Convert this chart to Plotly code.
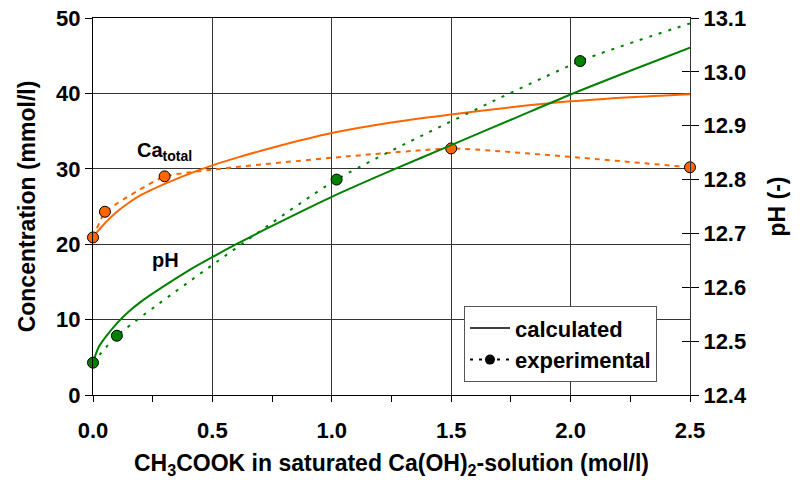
import plotly.graph_objects as go

# Calculated curves (model)
x_calc = [0, 0.025, 0.05, 0.1, 0.15, 0.2, 0.3, 0.4, 0.5, 0.6, 0.75, 1.0, 1.25, 1.5, 1.75, 2.0, 2.25, 2.5]
ca_calc = [21.0, 21.9, 22.8, 24.3, 25.5, 26.5, 28.0, 29.3, 30.45, 31.45, 32.8, 34.75, 36.15, 37.2,
           38.15, 38.95, 39.5, 39.9]
ph_calc = [12.461, 12.490, 12.506, 12.533, 12.555, 12.573, 12.603, 12.631, 12.656, 12.680, 12.714,
           12.768, 12.817, 12.864, 12.911, 12.958, 13.002, 13.045]

# Experimental measurements
ca_exp_x = [0, 0.05, 0.3, 1.5, 2.5]
ca_exp = [20.9, 24.3, 29.0, 32.7, 30.2]
ph_exp_x = [0, 0.1, 1.02, 2.04, 2.5]
ph_exp = [12.46, 12.51, 12.80, 13.02, 13.09]
ph_exp_marker = [True, True, True, True, False]

x_ticks = [0, 0.5, 1.0, 1.5, 2.0, 2.5]
ph_ticks = [12.4, 12.5, 12.6, 12.7, 12.8, 12.9, 13.0, 13.1]

ORANGE = "#FF6600"
GREEN = "#008000"
FONT = "Liberation Sans"

fig = go.Figure()

fig.add_trace(go.Scatter(
    x=x_calc, y=ca_calc, mode="lines",
    line=dict(color=ORANGE, width=2, shape="spline", smoothing=0.8),
    showlegend=False, cliponaxis=False))
fig.add_trace(go.Scatter(
    x=x_calc, y=ph_calc, yaxis="y2", mode="lines",
    line=dict(color=GREEN, width=2, shape="spline", smoothing=0.8),
    showlegend=False, cliponaxis=False))
fig.add_trace(go.Scatter(
    x=ca_exp_x, y=ca_exp, mode="lines+markers",
    line=dict(color=ORANGE, width=2, dash="5px,5px", shape="spline", smoothing=0.3),
    marker=dict(size=11, color=ORANGE, opacity=1, line=dict(color="black", width=1)),
    showlegend=False, cliponaxis=False))
fig.add_trace(go.Scatter(
    x=ph_exp_x, y=ph_exp, yaxis="y2", mode="lines+markers",
    line=dict(color=GREEN, width=2, dash="3px,7px", shape="spline", smoothing=0.5),
    marker=dict(size=[11 if m else 0 for m in ph_exp_marker], color=GREEN, opacity=1,
                line=dict(color="black", width=[1 if m else 0 for m in ph_exp_marker])),
    showlegend=False, cliponaxis=False))

# Legend keys
fig.add_trace(go.Scatter(x=[None], y=[None], mode="lines", name="calculated",
                         line=dict(color="black", width=1.5)))
fig.add_trace(go.Scatter(x=[None], y=[None], mode="lines+markers", name="experimental",
                         line=dict(color="black", width=2, dash="3px,6px"),
                         marker=dict(size=10, color="black", opacity=1)))

# narrow strip along the right axis: its grid lines form the inner half of the pH ticks
fig.add_trace(go.Scatter(x=[0.5], y=[12.7], xaxis="x2", yaxis="y3", mode="markers",
                         marker=dict(size=1, opacity=0), showlegend=False, hoverinfo="skip"))

fig.add_annotation(x=0.176, y=32.3, text="Ca<sub>total</sub>", showarrow=False,
                   xanchor="left", yanchor="middle",
                   font=dict(family=FONT, size=20, color="black", weight="bold"))
fig.add_annotation(x=0.239, y=17.9, text="pH", showarrow=False,
                   xanchor="left", yanchor="middle",
                   font=dict(family=FONT, size=20, color="black", weight="bold"))

grid = "#333333"
strip = 8 / 597
fig.update_layout(
    width=800, height=486,
    margin=dict(l=93, r=110, t=18, b=91, autoexpand=False),
    paper_bgcolor="white", plot_bgcolor="rgba(0,0,0,0)",
    font=dict(family=FONT, size=22, color="black", weight="bold"),
    xaxis=dict(
        range=[0, 2.5], tickvals=x_ticks, tickformat=".1f",
        ticks="outside", ticklen=6, tickcolor="black", ticklabelstandoff=10,
        minor=dict(dtick=0.25, ticks="outside", ticklen=6, tickcolor="black", showgrid=False),
        showgrid=True, gridcolor=grid, gridwidth=1,
        showline=True, linecolor="black", linewidth=1, mirror=True, zeroline=False,
        title=dict(text="CH<sub>3</sub>COOK in saturated Ca(OH)<sub>2</sub>-solution (mol/l)",
                   standoff=12, font=dict(size=23)),
    ),
    yaxis=dict(
        range=[0, 50], dtick=10, ticks="outside", ticklen=7, tickcolor="black",
        showgrid=True, gridcolor=grid, gridwidth=1,
        showline=True, linecolor="black", linewidth=1, zeroline=False,
        title=dict(text="Concentration (mmol/l)", standoff=14, font=dict(size=23)),
    ),
    yaxis2=dict(
        range=[12.4, 13.1], tickvals=ph_ticks, tickformat=".1f", overlaying="y", side="right",
        anchor="x", ticks="outside", ticklen=8, tickcolor="black",
        showgrid=False, showline=True, linecolor="#333333", linewidth=1, zeroline=False,
        title=dict(text="pH (-)", standoff=22, font=dict(size=23)),
    ),
    xaxis2=dict(domain=[1 - strip, 1], range=[0, 1], anchor="y3",
                showgrid=False, showline=False, zeroline=False, showticklabels=False, ticks=""),
    yaxis3=dict(
        domain=[0, 1], range=[12.4, 13.1], tickvals=ph_ticks, anchor="x2",
        showgrid=True, gridcolor="black", gridwidth=1, showticklabels=False,
        ticks="", showline=False, zeroline=False,
    ),
    legend=dict(
        x=0.6214, y=0.2355, xanchor="left", yanchor="top",
        bgcolor="white", bordercolor="#555555", borderwidth=1,
        font=dict(family=FONT, size=22, color="black", weight="bold"),
        tracegroupgap=0, itemwidth=40,
    ),
)

fig.write_html("out.html")
